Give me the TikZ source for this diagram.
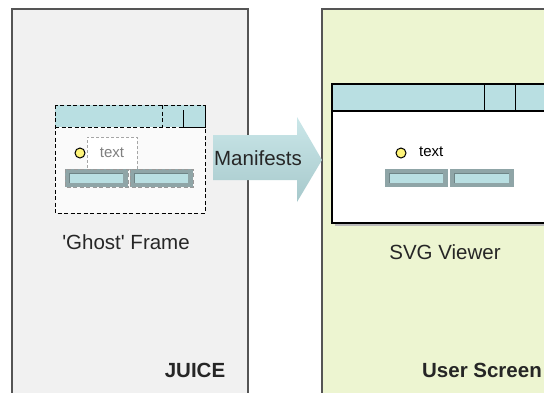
\documentclass[tikz,border=0pt]{standalone}
\usepackage{fontspec}
\setmainfont{Liberation Sans}

\definecolor{juicebg}{HTML}{F1F1F1}
\definecolor{screenbg}{HTML}{EDF5D1}
\definecolor{panelline}{HTML}{555555}
\definecolor{barteal}{HTML}{B9DFE2}
\definecolor{btnedge}{HTML}{8FA5A7}
\definecolor{btnline}{HTML}{6E8486}
\definecolor{lamp}{HTML}{FFF57A}

\newcommand{\pxsc}{1pt}
\newcommand{\bigfont}{\fontsize{20.5}{24}\selectfont}
\newcommand{\smallfont}{\fontsize{15}{18}\selectfont}

\newcommand{\bevelbtn}[4]{
\fill[btnedge] (#1,#2) rectangle (#3,#4);
\fill[barteal] (#1+4,#2+4) rectangle (#3-5,#4-4);
\draw[btnline, line width=0.6pt] (#1+4,#4-4) -- (#1+4,#2+4) -- (#3-5,#2+4);
}

\begin{document}
\begin{tikzpicture}[x=\pxsc, y=-\pxsc,
  panel/.style={draw=panelline, line width=1.5pt},
  ghost/.style={dash pattern=on 4pt off 2.5pt, line width=0.9pt},
  lbl/.style={inner sep=0pt, font=\bigfont, text=black!85}]

\clip (0,0) rectangle (544,392);
\fill[white] (0,0) rectangle (544,392);

\draw[panel, fill=juicebg] (12,9) rectangle (248,400);
\draw[panel, fill=screenbg] (322,9) rectangle (560,400);

\fill[white!98!black] (55,105) rectangle (205,213);
\fill[barteal] (55,105) rectangle (205,127);
\draw[ghost] (55,127) -- (183,127);
\draw[ghost] (162,105) -- (162,127);
\draw[line width=0.9pt] (183,110) -- (183,127) -- (205,127) -- (205,105);
\draw[ghost] (55,105) rectangle (205,213);

\draw[fill=lamp, line width=1pt] (80,153) circle (5);
\node (ghosttxt) [draw=gray!70, dash pattern=on 3pt off 2pt, fill=white, minimum width=50pt,
  minimum height=32pt, text=gray, font=\smallfont] at (112,153) {text};

\bevelbtn{65}{169}{128}{187}
\bevelbtn{130}{169}{193}{187}
\draw[ghost, gray!80] (65,169) rectangle (128,187);
\draw[ghost, gray!80] (130,169) rectangle (193,187);

\node (ghostlbl) [lbl] at (126,242) {\textquotesingle Ghost\textquotesingle\ Frame};

\shade[top color=barteal!75!white, bottom color=barteal!90!black]
  (213,135) -- (297,135) -- (297,117) -- (322,160) -- (297,202) -- (297,180) -- (213,180) -- cycle;
\node (manifests) [lbl] at (258,158) {Manifests};

\fill[gray!55] (335,87) rectangle (563,226);
\draw[fill=white, line width=1.3pt] (332,84) rectangle (560,223);
\draw[fill=barteal, line width=1.3pt] (332,84) rectangle (560,111);
\draw[line width=1pt] (484,84) -- (484,111);
\draw[line width=1pt] (515,84) -- (515,111);

\draw[fill=lamp, line width=1pt] (401,153) circle (5);
\node (viewtxt) [anchor=west, inner sep=0pt, font=\smallfont] at (419,152) {text};

\bevelbtn{385}{169}{448}{187}
\bevelbtn{450}{169}{514}{187}

\node (viewlbl) [lbl] at (445,252) {SVG Viewer};

\node (juice) [lbl, font=\bigfont\bfseries] at (195,370) {JUICE};
\node (userscreen) [lbl, font=\bigfont\bfseries] at (482,370) {User Screen};

\end{tikzpicture}
\end{document}
